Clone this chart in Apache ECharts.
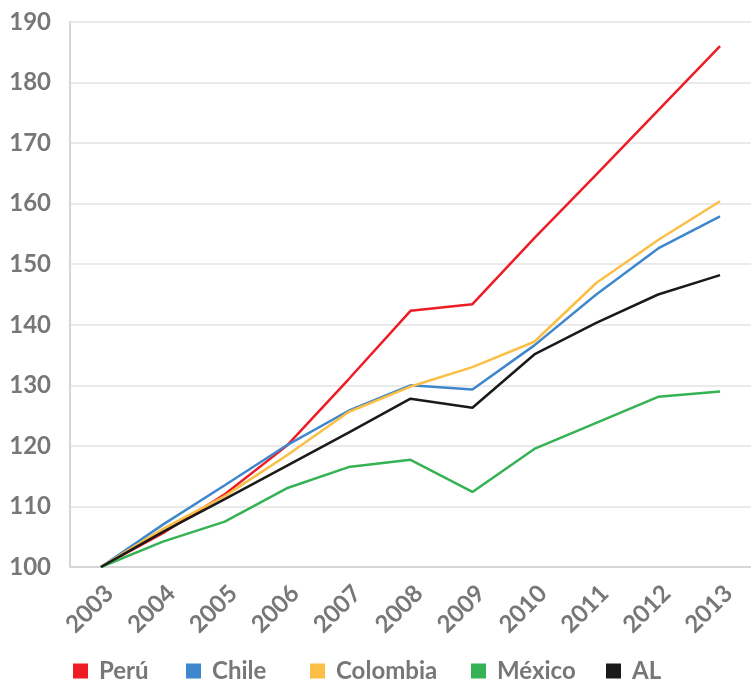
<!DOCTYPE html>
<html>
<head>
<meta charset="utf-8">
<script src="https://cdn.jsdelivr.net/npm/echarts@6/dist/echarts.min.js"></script>
<style>
  html, body { margin: 0; padding: 0; background: #ffffff; }
  #chart { width: 751px; height: 683px; }
</style>
</head>
<body>
<div id="chart"></div>
<script>
// Index (2003 = 100)
const years = ['2003', '2004', '2005', '2006', '2007', '2008', '2009', '2010', '2011', '2012', '2013'];
const peru     = [100, 105.6, 112.0, 120.0, 131.0, 142.3, 143.4, 154.3, 164.8, 175.4, 186.0];
const chile    = [100, 107.0, 113.5, 120.1, 125.8, 130.0, 129.3, 136.6, 145.0, 152.6, 157.9];
const colombia = [100, 106.3, 111.7, 118.4, 125.6, 129.8, 133.0, 137.2, 146.9, 154.0, 160.4];
const mexico   = [100, 104.2, 107.5, 113.0, 116.5, 117.7, 112.4, 119.5, 123.8, 128.1, 129.0];
const al       = [100, 105.8, 111.2, 116.7, 122.2, 127.8, 126.3, 135.1, 140.3, 145.0, 148.2];
const yTicks = { min: 100, max: 190, step: 10 };

const FONT = 'Lato, "Open Sans", sans-serif';
const GREY = '#777777';

const seriesDefs = [
  { name: 'Perú',     data: peru,     color: '#ee1c25', legendLeft: 73 },
  { name: 'Chile',    data: chile,    color: '#3f87cc', legendLeft: 186 },
  { name: 'Colombia', data: colombia, color: '#fbbf45', legendLeft: 310 },
  { name: 'México',   data: mexico,   color: '#35b254', legendLeft: 471 },
  { name: 'AL',       data: al,       color: '#1a1a1a', legendLeft: 606 }
];

const chart = echarts.init(document.getElementById('chart'), null, { renderer: 'canvas' });

chart.setOption({
  animation: false,
  backgroundColor: '#ffffff',
  grid: { left: 70, right: -4, top: 22, bottom: 116, containLabel: false },
  legend: seriesDefs.map(s => ({
    data: [s.name],
    left: s.legendLeft,
    top: 658,
    padding: 0,
    selectedMode: false,
    icon: 'rect',
    itemWidth: 15,
    itemHeight: 15,
    textStyle: {
      fontFamily: FONT, fontWeight: 'bold', fontSize: 24, color: GREY,
      lineHeight: 26, padding: [0, 0, 0, 6]
    }
  })),
  xAxis: {
    type: 'category',
    data: years,
    boundaryGap: true,
    axisLine: { show: true, lineStyle: { color: '#d6d6d6', width: 2 } },
    axisTick: { show: false },
    axisLabel: {
      interval: 0,
      rotate: 45,
      align: 'right',
      verticalAlign: 'top',
      lineHeight: 24,
      margin: 14,
      fontFamily: FONT, fontWeight: 'bold', fontSize: 24, color: GREY
    },
    splitLine: { show: false }
  },
  yAxis: {
    type: 'value',
    min: yTicks.min,
    max: yTicks.max,
    interval: yTicks.step,
    axisLine: { show: true, lineStyle: { color: '#d6d6d6', width: 2 } },
    axisTick: { show: false },
    axisLabel: {
      margin: 19,
      fontFamily: FONT, fontWeight: 'bold', fontSize: 24, color: GREY
    },
    splitLine: { show: true, lineStyle: { color: '#e3e3e3', width: 1.5 } }
  },
  series: seriesDefs.map(s => ({
    name: s.name,
    type: 'line',
    data: s.data,
    color: s.color,
    symbol: 'none',
    smooth: false,
    lineStyle: { color: s.color, width: 2.5 },
    emphasis: { disabled: true }
  }))
});
</script>
</body>
</html>
